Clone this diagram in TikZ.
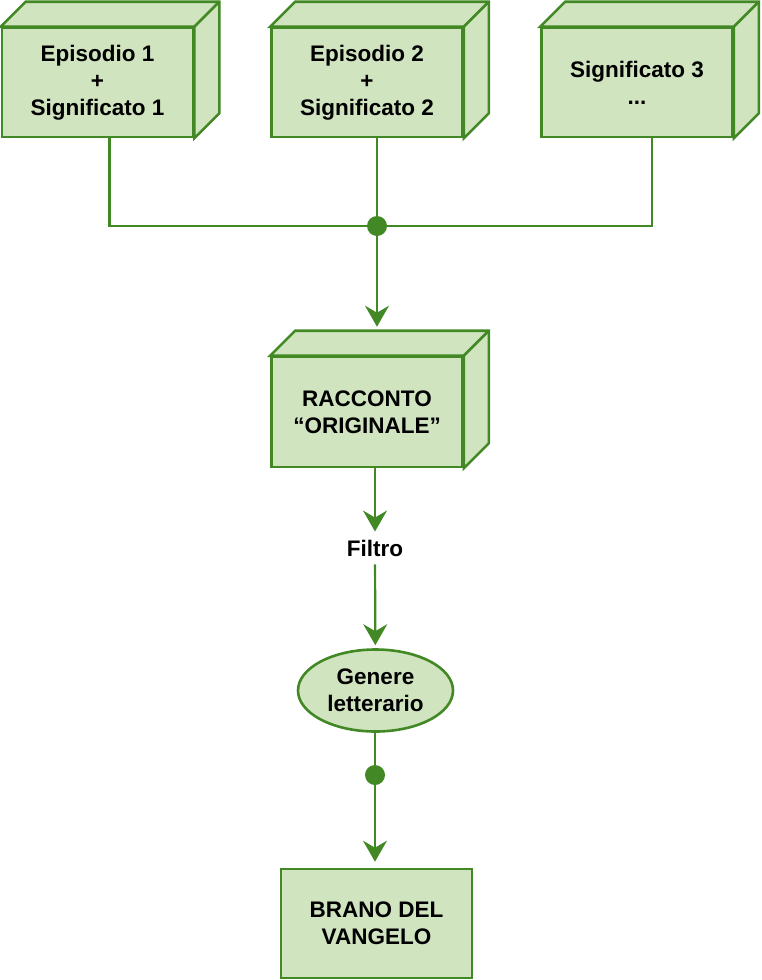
\documentclass[tikz,border=0pt]{standalone}
\usepackage{fontspec}
\setmainfont{Liberation Sans}
\usetikzlibrary{arrows.meta,positioning,shapes.geometric}
\definecolor{verdechiaro}{RGB}{208,228,191}
\definecolor{verdelinea}{RGB}{66,136,36}

\begin{document}
\begin{tikzpicture}[x=1pt, y=-1pt,
    testo/.style={font=\fontsize{22.5}{27}\selectfont\bfseries, align=center},
    faccia/.style={draw=verdelinea, line width=2.6pt, fill=verdechiaro, testo,
        minimum width=191pt, minimum height=109pt, inner sep=0pt},
    lato/.style={draw=verdelinea, line width=2.6pt, fill=verdechiaro, line join=miter},
    linea/.style={draw=verdelinea, line width=2.2pt},
    freccia/.style={linea, -{Stealth[length=21pt,width=24pt,inset=7pt]}},
    punto/.style={circle, fill=verdelinea, minimum size=20pt, inner sep=0pt}
]
    \useasboundingbox (0,0) rectangle (761,980);

    % Cubi in alto
    \node[faccia] (ep1) at (97.5,82.5) {Episodio 1\\+\\Significato 1};
    \node[faccia] (ep2) at (367,82.5) {Episodio 2\\+\\Significato 2};
    \node[faccia] (sig3) at (637,82.5) {Significato 3\\...};
    \node[faccia, minimum height=110pt] (racconto) at (367,412) {RACCONTO\\``ORIGINALE''};

    % Facce laterali dei cubi
    \foreach \n in {ep1, ep2, sig3, racconto} {
        \draw[lato] (\n.north west) -- ++(25,-25) -- ([xshift=25pt,yshift=25pt]\n.north east)
            -- ([xshift=25pt,yshift=25pt]\n.south east) -- (\n.south east)
            -- (\n.north east) -- cycle;
        \draw[lato] (\n.north east) -- ++(25,-25);
    }

    % Nodo di raccolta
    \node[punto] (nodo1) at (377,226) {};
    \draw[linea] ([xshift=12pt]ep1.south) |- (nodo1);
    \draw[linea] ([xshift=15pt]sig3.south) |- (nodo1);
    \draw[linea] (nodo1 |- ep2.south) -- (nodo1);
    \coordinate (raccsopra) at ([yshift=25pt]racconto.north);
    \draw[freccia, shorten >=4pt] (nodo1) -- (nodo1 |- raccsopra);

    % Filtro e genere
    \node[testo, inner sep=8pt] (filtro) at (375,548) {Filtro};
    \draw[freccia] (racconto.south -| filtro) -- (filtro);
    \node[ellipse, draw=verdelinea, line width=2.6pt, fill=verdechiaro, testo,
        minimum width=155pt, minimum height=82pt, inner sep=0pt] (genere) at (375.5,690.5) {Genere\\letterario};
    \draw[freccia, shorten >=3pt] (filtro) -- (genere);

    % Brano finale
    \node[punto] (nodo2) at (375,775) {};
    \node[faccia] (brano) at (376.5,923.5) {BRANO DEL\\VANGELO};
    \draw[linea] (genere.south -| nodo2) -- (nodo2);
    \draw[freccia, shorten >=6pt] (nodo2) -- (nodo2 |- brano.north);
\end{tikzpicture}
\end{document}
